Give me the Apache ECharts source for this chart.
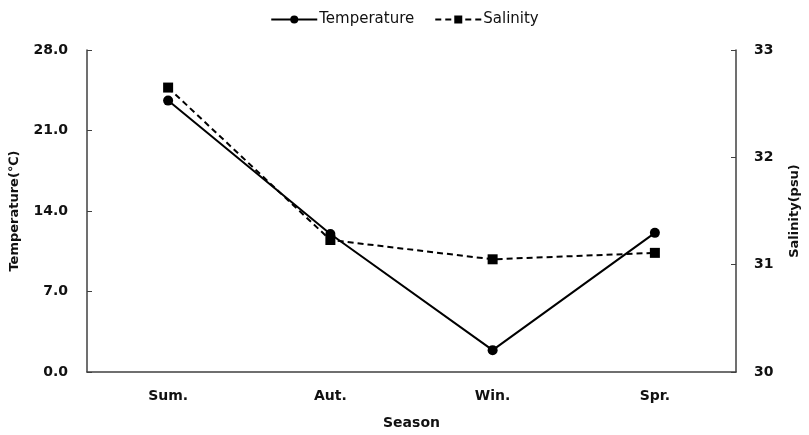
<!DOCTYPE html>
<html>
<head>
<meta charset="utf-8">
<script src="https://cdn.jsdelivr.net/npm/echarts@6/dist/echarts.min.js"></script>
<style>
  html, body { margin: 0; padding: 0; background: #fff; }
  #chart { width: 809px; height: 435px; }
</style>
</head>
<body>
<div id="chart"></div>
<script>
// Seasonal temperature and salinity
const seasons = ['Sum.', 'Aut.', 'Win.', 'Spr.'];
const temperature = [23.6, 12.0, 1.9, 12.1];
const salinity = [32.65, 31.23, 31.05, 31.11];
const tempTicks = { min: 0, max: 28, interval: 7 };
const salTicks = { min: 30, max: 33, interval: 1 };

const axisColor = '#404040';
const labelFont = { fontFamily: 'DejaVu Sans', fontWeight: 'bold', fontSize: 14, color: '#111' };
const nameFont = { fontFamily: 'DejaVu Sans', fontWeight: 'bold', fontSize: 13, color: '#111' };

const chart = echarts.init(document.getElementById('chart'), null, { renderer: 'canvas' });
chart.setOption({
  animation: false,
  backgroundColor: '#fff',
  legend: {
    top: 7,
    left: 'center',
    itemWidth: 46,
    itemHeight: 10,
    itemGap: 20,
    textStyle: { fontFamily: 'DejaVu Sans', fontSize: 15, color: '#111', padding: [0, 0, 0, -3] },
    data: ['Temperature', 'Salinity']
  },
  grid: { left: 87, right: 68, top: 50, bottom: 62 },
  xAxis: {
    type: 'category',
    data: seasons,
    boundaryGap: true,
    name: 'Season',
    nameLocation: 'middle',
    nameGap: 44,
    nameTextStyle: labelFont,
    axisLine: { lineStyle: { color: axisColor, width: 1.5 } },
    axisTick: { inside: true, length: 5, lineStyle: { color: axisColor } },
    axisLabel: Object.assign({ margin: 17 }, labelFont),
    splitLine: { show: false }
  },
  yAxis: [
    {
      type: 'value',
      min: tempTicks.min, max: tempTicks.max, interval: tempTicks.interval,
      name: 'Temperature(℃)',
      nameLocation: 'middle',
      nameGap: 66,
      nameRotate: 90,
      nameTextStyle: nameFont,
      axisLine: { show: true, lineStyle: { color: axisColor, width: 1.5 } },
      axisTick: { show: true, inside: true, length: 5, lineStyle: { color: axisColor } },
      axisLabel: Object.assign({ margin: 19, formatter: v => v.toFixed(1) }, labelFont),
      splitLine: { show: false }
    },
    {
      type: 'value',
      position: 'right',
      min: salTicks.min, max: salTicks.max, interval: salTicks.interval,
      name: 'Salinity(psu)',
      nameLocation: 'middle',
      nameGap: 52,
      nameRotate: 90,
      nameTextStyle: nameFont,
      axisLine: { show: true, lineStyle: { color: axisColor, width: 1.5 } },
      axisTick: { show: true, inside: true, length: 5, lineStyle: { color: axisColor } },
      axisLabel: Object.assign({ margin: 18 }, labelFont),
      splitLine: { show: false }
    }
  ],
  series: [
    {
      name: 'Temperature',
      type: 'line',
      yAxisIndex: 0,
      data: temperature,
      symbol: 'circle',
      symbolSize: 10,
      itemStyle: { color: '#000' },
      lineStyle: { color: '#000', width: 2 }
    },
    {
      name: 'Salinity',
      type: 'line',
      yAxisIndex: 1,
      data: salinity,
      symbol: 'rect',
      symbolSize: 10,
      itemStyle: { color: '#000' },
      lineStyle: { color: '#000', width: 2, type: [6, 4] }
    }
  ]
});
</script>
</body>
</html>
